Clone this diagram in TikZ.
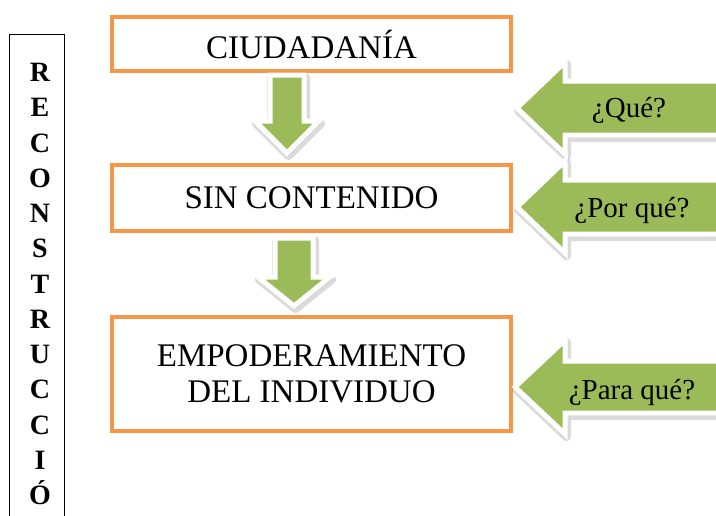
\documentclass[tikz,border=0pt]{standalone}
\usepackage{fontspec}
\setmainfont{Liberation Serif}
\usetikzlibrary{positioning, shadows}
\definecolor{boxorange}{HTML}{F79646}
\definecolor{arrowgreen}{HTML}{9BBB59}

\begin{document}
\begin{tikzpicture}[
    x=1pt, y=-1pt,
    box/.style={draw=boxorange, line width=4pt, fill=white, align=center,
                minimum width=399pt, inner sep=0pt,
                font=\fontsize{33}{36}\selectfont},
    fatarrow/.style={fill=arrowgreen, draw=white, line width=5pt, line join=miter,
                drop shadow={shadow xshift=1.5pt, shadow yshift=-2.5pt, opacity=0.14,
                             fill=black, draw=black, line width=9pt, line join=round}},
    question/.style={inner sep=0pt, font=\fontsize{29}{32}\selectfont}
]
\useasboundingbox (0,0) rectangle (716,515);

% Side label
\draw[line width=1pt] (9,520) -- (9,34) -- (64,34) -- (64,520);
\node[inner sep=0pt, align=center, font=\bfseries\fontsize{28}{35.25}\selectfont]
    (side) at (40,284) {R\\E\\C\\O\\N\\S\\T\\R\\U\\C\\C\\I\\Ó};

% Main column
\node[box, minimum height=54pt] (ciudadania) at (311.5,44) {CIUDADANÍA};
\node[box, minimum height=66pt, below=90pt of ciudadania] (contenido)
    {SIN CONTENIDO};
\node[box, minimum height=114pt, below=82pt of contenido] (empoderamiento)
    {EMPODERAMIENTO\\DEL INDIVIDUO};

% Down arrows
\coordinate (tipdown1) at ([xshift=-24.5pt, yshift=10pt]contenido.north);
\draw[fatarrow] (tipdown1) -- ++(32,-32) -- ++(-15,0) -- ++(0,-46)
    -- ++(-34,0) -- ++(0,46) -- ++(-15,0) -- cycle;
\coordinate (tipdown2) at ([xshift=-17.5pt, yshift=9pt]empoderamiento.north);
\draw[fatarrow] (tipdown2) -- ++(36,-29) -- ++(-17,0) -- ++(0,-39)
    -- ++(-38,0) -- ++(0,39) -- ++(-17,0) -- cycle;

% Question arrows
\coordinate (tipque) at (517,108);
\coordinate (tippor) at (517,207);
\coordinate (tippara) at (515,387);
\draw[fatarrow] (tipque) -- ++(48,-46) -- ++(0,19) -- ++(180,0) -- ++(0,54)
    -- ++(-180,0) -- ++(0,19) -- cycle;
\draw[fatarrow] (tippor) -- ++(48,-46) -- ++(0,19) -- ++(180,0) -- ++(0,54)
    -- ++(-180,0) -- ++(0,19) -- cycle;
\draw[fatarrow] (tippara) -- ++(50,-47) -- ++(0,21) -- ++(180,0) -- ++(0,52)
    -- ++(-180,0) -- ++(0,21) -- cycle;

\node[question] (que) at ([xshift=112pt, yshift=-2pt]tipque) {¿Qué?};
\node[question] (porque) at ([xshift=115pt, yshift=-3pt]tippor) {¿Por qué?};
\node[question] (paraque) at ([xshift=117pt, yshift=-5pt]tippara) {¿Para qué?};

\end{tikzpicture}
\end{document}
